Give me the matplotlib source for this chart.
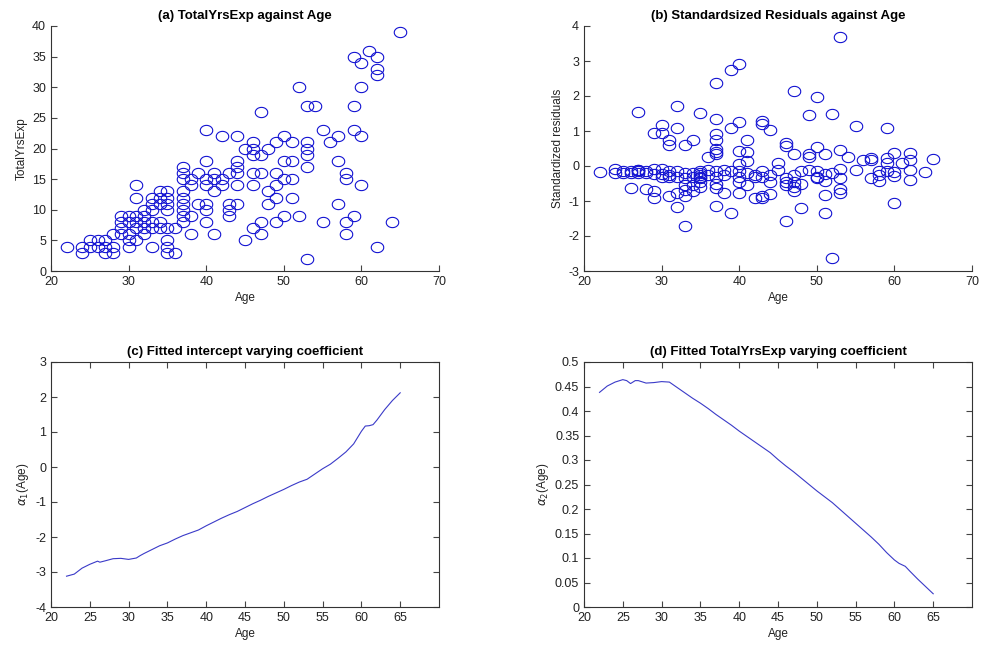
import matplotlib
matplotlib.use('Agg')
import matplotlib.pyplot as plt
from matplotlib.path import Path
import numpy as np

plt.rcParams['font.family'] = ['Liberation Sans', 'DejaVu Sans']
plt.rcParams['mathtext.fontset'] = 'dejavusans'
plt.rcParams['axes.unicode_minus'] = False

# (a) Age vs TotalYrsExp
age_a = [22, 24, 24, 25, 25, 26, 26, 27, 27, 27, 28, 28, 28,
         29, 29, 29, 29, 30, 30, 30, 30, 30,
         31, 31, 31, 31, 31, 31, 32, 32, 32, 32, 32,
         33, 33, 33, 33, 33, 33, 34, 34, 34, 34, 34,
         35, 35, 35, 35, 35, 35, 35, 35, 36, 36,
         37, 37, 37, 37, 37, 37, 37, 37, 37, 38, 38, 38, 38, 39, 39,
         40, 40, 40, 40, 40, 40, 40, 41, 41, 41, 41, 42, 42, 42,
         43, 43, 43, 43, 44, 44, 44, 44, 44, 44, 45, 45,
         46, 46, 46, 46, 46, 46, 47, 47, 47, 47, 47, 48, 48, 48,
         49, 49, 49, 49, 49, 50, 50, 50, 50, 51, 51, 51, 51, 52, 52,
         53, 53, 53, 53, 53, 53, 54, 55, 55, 56, 57, 57, 57,
         58, 58, 58, 58, 59, 59, 59, 59, 60, 60, 60, 60, 61,
         62, 62, 62, 62, 64, 65]
yrs_a = [4, 4, 3, 5, 4, 5, 4, 5, 4, 3, 6, 4, 3,
         9, 8, 7, 6, 9, 8, 6, 5, 4,
         14, 12, 9, 8, 7, 5, 10, 9, 8, 7, 6,
         12, 11, 10, 8, 7, 4, 13, 12, 11, 8, 7,
         13, 12, 11, 10, 7, 5, 4, 3, 7, 3,
         17, 16, 15, 13, 12, 11, 10, 9, 8, 15, 14, 9, 6, 16, 11,
         23, 18, 15, 14, 11, 10, 8, 16, 15, 13, 6, 22, 15, 14,
         16, 11, 10, 9, 22, 18, 17, 16, 14, 11, 20, 5,
         21, 20, 19, 16, 14, 7, 26, 19, 16, 8, 6, 20, 13, 11,
         21, 16, 14, 12, 8, 22, 18, 15, 9, 21, 18, 15, 12, 30, 9,
         27, 21, 20, 19, 17, 2, 27, 23, 8, 21, 22, 18, 11,
         16, 15, 8, 6, 35, 27, 23, 9, 34, 30, 22, 14, 36,
         35, 33, 32, 4, 8, 39]

# (b) standardized residuals
age_b = [22, 24, 24, 25, 25, 26, 26, 26, 27, 27, 27, 27, 27,
         28, 28, 28, 29, 29, 29, 29, 29, 30, 30, 30, 30, 30,
         31, 31, 31, 31, 31, 31, 32, 32, 32, 32, 32, 32,
         33, 33, 33, 33, 33, 33, 33, 34, 34, 34, 34, 34,
         35, 35, 35, 35, 35, 35, 35, 35, 36, 36, 36,
         37, 37, 37, 37, 37, 37, 37, 37, 37, 37, 37, 37,
         38, 38, 38, 39, 39, 39, 39, 40, 40, 40, 40, 40, 40, 40, 40,
         41, 41, 41, 41, 41, 42, 42, 42, 43, 43, 43, 43, 43, 43,
         44, 44, 44, 44, 45, 45, 46, 46, 46, 46, 46, 46,
         47, 47, 47, 47, 47, 47, 48, 48, 48, 49, 49, 49, 49,
         50, 50, 50, 50, 50, 51, 51, 51, 51, 51, 52, 52, 52,
         53, 53, 53, 53, 53, 53, 54, 55, 55, 56, 57, 57, 57,
         58, 58, 58, 59, 59, 59, 59, 60, 60, 60, 60, 61,
         62, 62, 62, 62, 64, 65]
res_b = [-0.16, -0.08, -0.2, -0.13, -0.2, -0.15, -0.63, -0.2, 1.55, -0.1, -0.15, -0.2, -0.12,
         -0.15, -0.67, -0.2, 0.94, -0.09, -0.23, -0.71, -0.9, 1.18, 0.94, -0.09, -0.23, -0.3,
         0.75, 0.59, -0.15, -0.3, -0.86, -0.25, 1.71, 1.09, -0.15, -0.3, -0.76, -1.17,
         0.59, -0.2, -0.35, -0.55, -0.69, -0.86, -1.72, 0.73, -0.2, -0.3, -0.55, -0.71,
         1.52, -0.15, -0.25, -0.3, -0.45, -0.6, -0.2, -0.35, 0.27, -0.12, -0.25,
         2.38, 1.33, 0.92, 0.75, 0.49, 0.41, 0.35, -0.15, -0.3, -0.52, -0.62, -1.14,
         -0.12, -0.25, -0.76, 2.74, 1.1, -0.15, -1.34, 2.92, 1.26, 0.44, 0.05, -0.15, -0.3, -0.45, -0.76,
         0.75, 0.39, 0.13, -0.2, -0.55, -0.9, -0.25, -0.3, 1.29, 1.21, -0.15, -0.3, -0.85, -0.9,
         1.02, -0.25, -0.45, -0.8, 0.1, -0.1, 0.65, 0.56, -0.35, -0.45, -0.55, -1.58,
         2.14, 0.35, -0.25, -0.45, -0.6, -0.72, -0.5, -1.19, -0.15, 1.47, 0.35, 0.27, -0.1,
         1.96, 0.54, -0.13, -0.3, -0.35, 0.35, -0.23, -0.42, -0.83, -1.34, 1.5, -0.2, -2.62,
         3.69, 0.46, -0.09, -0.33, -0.66, -0.76, 0.27, 1.13, -0.12, 0.17, 0.22, 0.17, -0.35,
         -0.13, -0.25, -0.44, 1.1, 0.24, 0.1, -0.13, 0.37, -0.18, -0.28, -1.05, 0.1,
         0.37, 0.17, -0.12, -0.4, -0.16, 0.2]

# (c) fitted intercept coefficient
age_c = [22, 23, 24, 25, 26, 26.3, 27, 28, 29, 30, 31, 31.5, 32, 33, 34, 35, 36, 37, 38, 39,
         40, 41, 42, 43, 44, 45, 46, 47, 48, 49, 50, 51, 52, 53, 54, 55, 56, 57, 58, 59,
         60, 60.5, 61, 61.5, 62, 63, 64, 65]
alpha1 = [-3.12, -3.06, -2.89, -2.78, -2.69, -2.72, -2.68, -2.62, -2.61, -2.64, -2.6, -2.53, -2.47,
          -2.36, -2.25, -2.17, -2.06, -1.96, -1.88, -1.8, -1.68, -1.57, -1.46, -1.36, -1.27,
          -1.16, -1.05, -0.95, -0.84, -0.74, -0.64, -0.53, -0.43, -0.35, -0.2, -0.05, 0.08,
          0.25, 0.43, 0.66, 1.02, 1.17, 1.18, 1.21, 1.34, 1.64, 1.9, 2.12]

# (d) fitted TotalYrsExp coefficient
age_d = [22, 23, 24, 25, 25.5, 26, 26.6, 27, 28, 29, 30, 31, 32, 33, 34, 35, 36, 37, 38, 39,
         40, 41, 42, 43, 44, 45, 46, 47, 48, 49, 50, 51, 52, 53, 54, 55, 56, 57, 58, 59,
         60, 60.6, 61.4, 62, 63, 64, 65]
alpha2 = [0.438, 0.451, 0.459, 0.464, 0.462, 0.456, 0.462, 0.462, 0.457, 0.458, 0.46, 0.459,
          0.448, 0.437, 0.426, 0.416, 0.405, 0.393, 0.382, 0.371, 0.359, 0.348, 0.337, 0.326,
          0.315, 0.301, 0.288, 0.276, 0.263, 0.25, 0.237, 0.225, 0.213, 0.199, 0.185, 0.171,
          0.157, 0.143, 0.128, 0.111, 0.096, 0.089, 0.083, 0.073, 0.057, 0.042, 0.027]

W, H = 981, 650
fig = plt.figure(figsize=(W / 100, H / 100), dpi=100)

def make_ax(l, t, r, b):
    return fig.add_axes([l / W, 1 - b / H, (r - l) / W, (b - t) / H])

ax_a = make_ax(51, 26, 439, 271)
ax_b = make_ax(584, 26, 972, 271)
ax_c = make_ax(51, 362, 439, 607)
ax_d = make_ax(584, 362, 972, 607)

# the original circles are squashed a bit (wider than tall)
t = np.linspace(0, 2 * np.pi, 41)
ellipse = Path(np.column_stack([np.cos(t), 0.82 * np.sin(t)]))

lab_kw = dict(fontsize=8.5, color='#222222')
tit_kw = dict(fontsize=9.5, fontweight='bold', color='black', pad=5)
mk = dict(ls='none', marker=ellipse, ms=9, mfc='none', mec='#1414d2', mew=0.8)

ax_a.plot(age_a, yrs_a, **mk)
ax_a.set_xlim(20, 70)
ax_a.set_ylim(0, 40)
ax_a.set_xticks(range(20, 71, 10))
ax_a.set_yticks(range(0, 41, 5))
ax_a.set_title('(a) TotalYrsExp against Age', **tit_kw)
ax_a.set_xlabel('Age', **lab_kw)
ax_a.set_ylabel('TotalYrsExp', **lab_kw)

ax_b.plot(age_b, res_b, **mk)
ax_b.set_xlim(20, 70)
ax_b.set_ylim(-3, 4)
ax_b.set_xticks(range(20, 71, 10))
ax_b.set_yticks(range(-3, 5))
ax_b.set_title('(b) Standardsized Residuals against Age', **tit_kw)
ax_b.set_xlabel('Age', **lab_kw)
ax_b.set_ylabel('Standardized residuals', **lab_kw)

for ax in (ax_a, ax_b):
    ax.spines['top'].set_visible(False)
    ax.spines['right'].set_visible(False)
    ax.tick_params(direction='in', length=4, width=0.8, labelsize=9,
                   labelcolor='#222222', color='#444444')

ax_c.plot(age_c, alpha1, color='#3a3ac8', lw=0.8)
ax_c.set_xlim(20, 70)
ax_c.set_ylim(-4, 3)
ax_c.set_xticks(range(20, 66, 5))
ax_c.set_yticks(range(-4, 4))
ax_c.set_title('(c) Fitted intercept varying coefficient', **tit_kw)
ax_c.set_xlabel('Age', **lab_kw)
ax_c.set_ylabel(r'$\alpha_1$(Age)', **lab_kw)

ax_d.plot(age_d, alpha2, color='#3a3ac8', lw=0.8)
ax_d.set_xlim(20, 70)
ax_d.set_ylim(0, 0.5)
ax_d.set_xticks(range(20, 66, 5))
ax_d.set_yticks(np.arange(0, 0.51, 0.05))
ax_d.set_yticklabels(['0', '0.05', '0.1', '0.15', '0.2', '0.25', '0.3', '0.35', '0.4', '0.45', '0.5'])
ax_d.set_title('(d) Fitted TotalYrsExp varying coefficient', **tit_kw)
ax_d.set_xlabel('Age', **lab_kw)
ax_d.set_ylabel(r'$\alpha_2$(Age)', **lab_kw)

for ax in (ax_c, ax_d):
    ax.tick_params(direction='in', length=4, width=0.8, labelsize=9,
                   labelcolor='#222222', color='#444444', top=True, right=True)

for ax in (ax_a, ax_b, ax_c, ax_d):
    for s in ax.spines.values():
        s.set_color('#333333')
        s.set_linewidth(0.8)
    ax.xaxis.labelpad = 3
    ax.yaxis.labelpad = 3

fig.savefig('out.png', dpi=100)
